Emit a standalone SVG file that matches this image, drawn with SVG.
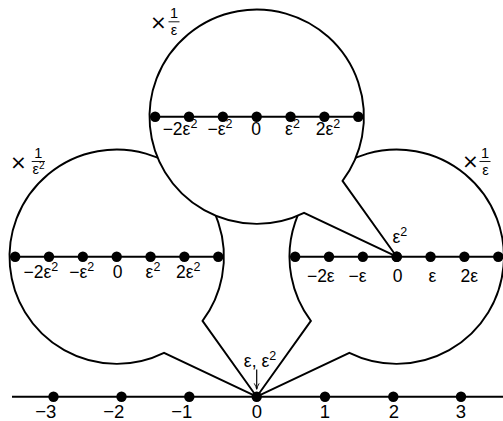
<svg xmlns="http://www.w3.org/2000/svg" width="503" height="421" viewBox="0 0 503 421">
<defs>
  <marker id="arr" viewBox="0 0 10 10" refX="9" refY="5" markerWidth="7" markerHeight="7" markerUnits="userSpaceOnUse" orient="auto">
    <path d="M1,1.5 Q5,4 9.5,5 Q5,6 1,8.5" fill="none" stroke="#000" stroke-width="1.3"/>
  </marker>
</defs>
<style>
  .callout { fill: #fff; stroke: #000; stroke-width: 1.9; stroke-linejoin: miter; stroke-miterlimit: 3; }
  .axis { stroke: #000; stroke-width: 1.9; fill: none; }
  .dot { fill: #000; }
  text { font-family: "Liberation Sans", Arial, sans-serif; fill: #000; }
  .lbl { font-size: 17.5px; text-anchor: middle; }
  .big { font-size: 18.5px; text-anchor: middle; }
  .sup { font-size: 12.5px; }
  .fr { font-size: 14.5px; text-anchor: middle; }
  .times { font-family: "DejaVu Sans", sans-serif; font-size: 20px; text-anchor: middle; }
  .bar { stroke: #000; stroke-width: 0.9; }
</style>

<g id="node-left">
  <path class="callout" d="M 256.7 396.7 L 202.54 320.92 A 107.2 107.2 0 1 0 164.02 352.89 Z"/>
  <line class="axis" x1="15.15" y1="256.7" x2="218.25" y2="256.7"/>
  <g class="dot">
    <circle cx="15.15" cy="256.7" r="5.2"/><circle cx="49" cy="256.7" r="5.2"/><circle cx="82.85" cy="256.7" r="5.2"/><circle cx="116.7" cy="256.7" r="5.2"/><circle cx="150.55" cy="256.7" r="5.2"/><circle cx="184.4" cy="256.7" r="5.2"/><circle cx="218.25" cy="256.7" r="5.2"/>
  </g>
  <text class="lbl" x="40.8" y="278.4">−2ε<tspan class="sup" dy="-7">2</tspan></text>
  <text class="lbl" x="81.7" y="278.4">−ε<tspan class="sup" dy="-7">2</tspan></text>
  <text class="lbl" x="117.5" y="278.4">0</text>
  <text class="lbl" x="153" y="278.4">ε<tspan class="sup" dy="-7">2</tspan></text>
  <text class="lbl" x="188.3" y="278.4">2ε<tspan class="sup" dy="-7">2</tspan></text>
  <text class="times" x="18.3" y="169.3">×</text>
  <text class="fr" x="38.3" y="158">1</text>
  <line class="bar" x1="31.7" y1="161.5" x2="45" y2="161.5"/>
  <text class="fr" x="38.5" y="173.5">ε<tspan class="sup" style="font-size:10px" dy="-5">2</tspan></text>
</g>

<g id="node-right">
  <path class="callout" d="M 256.7 396.7 L 310.86 320.92 A 107.2 107.2 0 1 1 349.38 352.89 Z"/>
  <line class="axis" x1="295.15" y1="256.7" x2="498.25" y2="256.7"/>
  <g class="dot">
    <circle cx="295.15" cy="256.7" r="5.2"/><circle cx="329" cy="256.7" r="5.2"/><circle cx="362.85" cy="256.7" r="5.2"/><circle cx="396.7" cy="256.7" r="5.2"/><circle cx="430.55" cy="256.7" r="5.2"/><circle cx="464.4" cy="256.7" r="5.2"/><circle cx="498.25" cy="256.7" r="5.2"/>
  </g>
  <text class="lbl" x="320.8" y="281.6">−2ε</text>
  <text class="lbl" x="357.5" y="281.6">−ε</text>
  <text class="lbl" x="397.5" y="281.6">0</text>
  <text class="lbl" x="432.5" y="281.6">ε</text>
  <text class="lbl" x="469.3" y="281.6">2ε</text>
  <text class="times" x="470.5" y="168.3">×</text>
  <text class="fr" x="485" y="158">1</text>
  <line class="bar" x1="479.5" y1="161.5" x2="490.5" y2="161.5"/>
  <text class="fr" x="485.5" y="175">ε</text>
</g>

<g id="node-top">
  <path class="callout" d="M 396.7 256.7 L 342.54 180.92 A 107.2 107.2 0 1 0 304.02 212.89 Z"/>
  <line class="axis" x1="155.15" y1="116.7" x2="358.25" y2="116.7"/>
  <g class="dot">
    <circle cx="155.15" cy="116.7" r="5.2"/><circle cx="189" cy="116.7" r="5.2"/><circle cx="222.85" cy="116.7" r="5.2"/><circle cx="256.7" cy="116.7" r="5.2"/><circle cx="290.55" cy="116.7" r="5.2"/><circle cx="324.4" cy="116.7" r="5.2"/><circle cx="358.25" cy="116.7" r="5.2"/>
  </g>
  <text class="lbl" x="180" y="135">−2ε<tspan class="sup" dy="-7">2</tspan></text>
  <text class="lbl" x="220" y="135">−ε<tspan class="sup" dy="-7">2</tspan></text>
  <text class="lbl" x="256.2" y="135">0</text>
  <text class="lbl" x="292.5" y="135">ε<tspan class="sup" dy="-7">2</tspan></text>
  <text class="lbl" x="328" y="135">2ε<tspan class="sup" dy="-7">2</tspan></text>
  <text class="times" x="158.3" y="29.3">×</text>
  <text class="fr" x="174" y="18">1</text>
  <line class="bar" x1="168.5" y1="21.8" x2="179.5" y2="21.8"/>
  <text class="fr" x="174" y="35">ε</text>
</g>

<g id="node-eps2-point">
  <circle class="dot" cx="396.7" cy="256.7" r="5.2"/>
  <text class="lbl" x="392.5" y="243.3" style="text-anchor:start">ε<tspan class="sup" dy="-7">2</tspan></text>
</g>

<g id="node-main-axis">
  <line class="axis" x1="12" y1="396.7" x2="503" y2="396.7"/>
  <g class="dot">
    <circle cx="53.5" cy="396.7" r="5.2"/><circle cx="121.5" cy="396.7" r="5.2"/><circle cx="189.3" cy="396.7" r="5.2"/><circle cx="256.7" cy="396.7" r="5.2"/><circle cx="325" cy="396.7" r="5.2"/><circle cx="393.3" cy="396.7" r="5.2"/><circle cx="461" cy="396.7" r="5.2"/>
  </g>
  <text class="big" x="45.8" y="418">−3</text>
  <text class="big" x="113.8" y="418">−2</text>
  <text class="big" x="181.7" y="418">−1</text>
  <text class="big" x="257" y="418">0</text>
  <text class="big" x="325" y="418">1</text>
  <text class="big" x="394" y="418">2</text>
  <text class="big" x="461" y="418">3</text>
  <text class="lbl" x="260" y="367.3">ε, ε<tspan class="sup" dy="-7">2</tspan></text>
</g>

<g id="connectors">
  <line x1="256.7" y1="369.5" x2="256.7" y2="389" stroke="#000" stroke-width="1.2" marker-end="url(#arr)"/>
</g>
</svg>
